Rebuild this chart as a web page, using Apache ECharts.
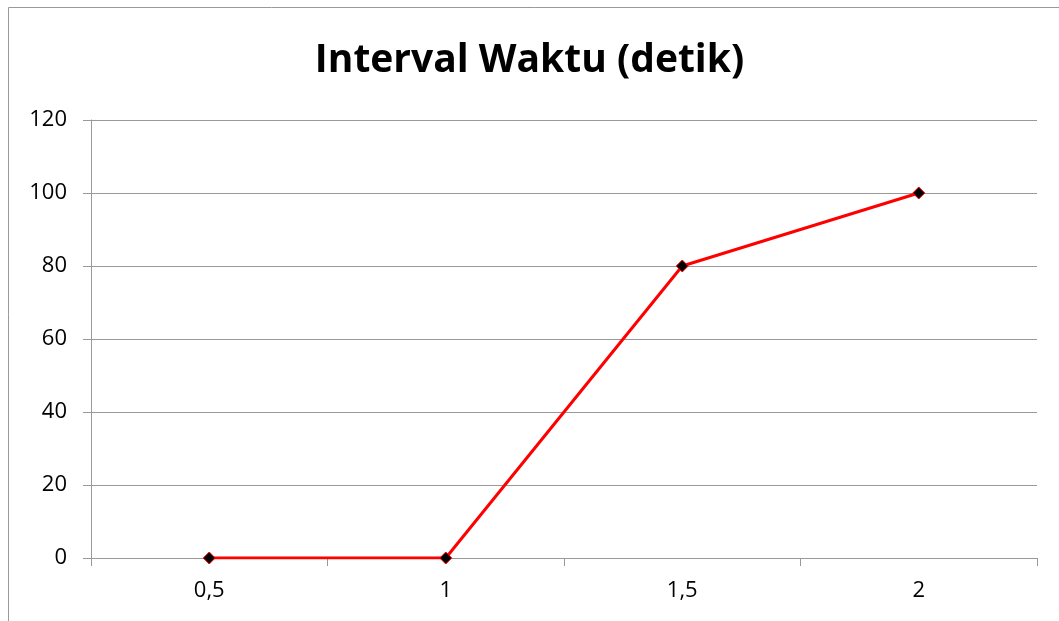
<!DOCTYPE html>
<html><head><meta charset="utf-8">
<script src="https://cdn.jsdelivr.net/npm/echarts@6/dist/echarts.min.js"></script>
<style>html,body{margin:0;padding:0;background:#fff}#c{width:1059px;height:621px}</style>
</head><body><div id="c"></div>
<script>
const categories = ['0,5', '1', '1,5', '2'];
const values = [0, 0, 80, 100];
const yTicks = [0, 20, 40, 60, 80, 100, 120];

const chart = echarts.init(document.getElementById('c'));
chart.setOption({
  animation: false,
  backgroundColor: '#fff',
  graphic: [{
    type: 'rect', shape: {x: 8.5, y: 7.5, width: 1100, height: 700},
    style: {fill: 'none', stroke: '#999', lineWidth: 1}
  }],
  title: {
    text: 'Interval Waktu (detik)', left: 'center', top: 36,
    textStyle: {fontFamily: 'Open Sans', fontWeight: 'bold', fontSize: 39, color: '#000'}
  },
  grid: {left: 91, right: 22, top: 120, bottom: 63, containLabel: false},
  xAxis: {
    type: 'category', data: categories, boundaryGap: true,
    axisLine: {lineStyle: {color: '#999', width: 1}},
    axisTick: {show: true, length: 8, lineStyle: {color: '#999'}},
    axisLabel: {fontFamily: 'Open Sans', fontSize: 22, color: '#000', margin: 22}
  },
  yAxis: {
    type: 'value', min: yTicks[0], max: yTicks[yTicks.length - 1], interval: 20,
    axisLine: {show: true, lineStyle: {color: '#999', width: 1}},
    axisTick: {show: true, length: 8, lineStyle: {color: '#999'}},
    splitLine: {lineStyle: {color: '#999', width: 1}},
    axisLabel: {fontFamily: 'Open Sans', fontSize: 22, color: '#000', margin: 24}
  },
  series: [{
    type: 'line', data: values,
    lineStyle: {color: '#ff0000', width: 3},
    symbol: 'diamond', symbolSize: 12,
    itemStyle: {color: '#000', borderColor: '#ff0000', borderWidth: 1}
  }]
});
</script></body></html>
